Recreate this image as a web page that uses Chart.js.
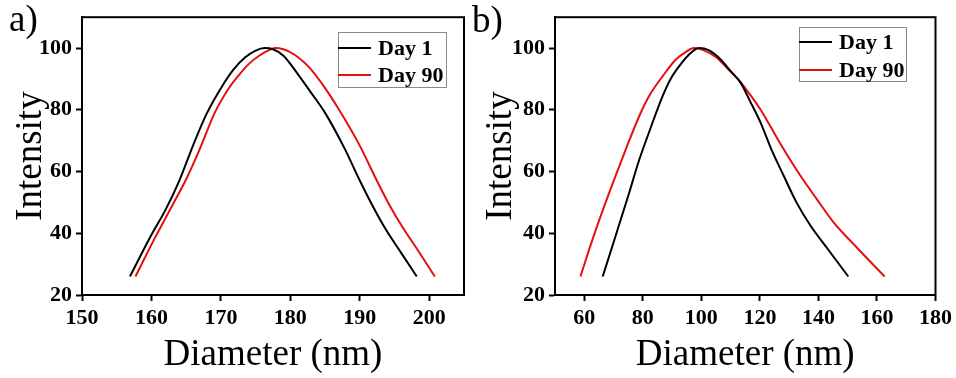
<!DOCTYPE html>
<html>
<head>
<meta charset="utf-8">
<script src="https://cdn.jsdelivr.net/npm/chart.js@4.4.0/dist/chart.umd.min.js"></script>
<style>
html, body { margin: 0; padding: 0; background: #fff; }
#wrap { position: relative; width: 956px; height: 378px; overflow: hidden; }
.panel { position: absolute; top: 0; height: 378px; }
#pa { left: 0; width: 470px; }
#pb { left: 470px; width: 486px; }
</style>
</head>
<body>
<div id="wrap">
    <div class="panel" id="pa"><canvas id="graficoA" width="470" height="378"></canvas></div>
    <div class="panel" id="pb"><canvas id="graficoB" width="486" height="378"></canvas></div>
</div>
<script>
// Panel a) - diametro (nm) e intensidad
const diamA_day1 = [156.9, 160.0, 162.0, 164.0, 166.0, 167.9, 170.0, 171.8, 173.5, 175.0, 176.3, 177.5, 179.0, 181.1, 183.0, 185.0, 187.8, 189.8, 191.7, 193.6, 196.0, 198.2];
const intA_day1  = [26, 39.5, 47.5, 57, 68.5, 78.5, 87, 93, 97, 99.2, 100, 99.6, 97.5, 91.5, 85.5, 79, 67.5, 58, 49.5, 41.8, 33.5, 26];
const diamA_day90 = [157.7, 160.5, 163.0, 165.0, 167.0, 169.1, 171.0, 172.5, 174.0, 175.5, 177.0, 177.8, 179.0, 180.5, 182.0, 183.0, 185.0, 186.9, 189.8, 192.6, 194.3, 196.0, 198.5, 200.8];
const intA_day90  = [26, 38.5, 49, 57.5, 67.5, 79, 86.5, 91, 94.8, 97.5, 99.4, 100, 99.6, 98, 95.3, 93, 87, 80.4, 69.2, 56.4, 49, 42.5, 34, 26];

// Panel b)
const diamB_day1 = [66.3, 70.0, 75.4, 78.5, 81.7, 86.8, 89.5, 92.4, 95.5, 99.2, 102.5, 106.6, 110.0, 113.4, 116.8, 120.2, 124.0, 128.1, 132.5, 137.2, 143.5, 150.2];
const intB_day1  = [26, 37, 53.3, 63, 71.6, 84.5, 90, 94.1, 97.6, 100, 99.3, 96.3, 92.5, 88.8, 82.5, 75.9, 67, 58.7, 50, 42.6, 34.5, 26];
const diamB_day90 = [58.7, 63.0, 68.6, 73.5, 78.8, 82.5, 86.8, 91.3, 94.5, 97.5, 100.5, 105.4, 108.8, 112.2, 116.2, 120.2, 127.0, 133.8, 139.5, 145.1, 153.5, 162.6];
const intB_day90  = [26, 38.5, 53.3, 65.5, 78, 85, 90.9, 96.3, 98.6, 100, 99.4, 96.8, 93.5, 90.3, 85.5, 80.1, 69, 58.7, 51, 43.6, 35, 26];

const ticksXA = [150, 160, 170, 180, 190, 200];
const ticksXB = [60, 80, 100, 120, 140, 160, 180];
const ticksY = [20, 40, 60, 80, 100];

const etiquetas = ['Day 1', 'Day 90'];
const colores = ['#000000', '#e60f0f'];

const fuenteSerif = "'Liberation Serif', 'Times New Roman', serif";

function puntos(xs, ys) {
    return xs.map((x, i) => ({ x: x, y: ys[i] }));
}

// Marco, leyenda y letra del panel
const pluginMarco = {
    id: 'marco',
    afterDraw(chart, args, opts) {
        const ctx = chart.ctx;
        const a = chart.chartArea;
        ctx.save();
        ctx.strokeStyle = '#000';
        ctx.lineWidth = 2;
        ctx.strokeRect(a.left, a.top, a.right - a.left, a.bottom - a.top);

        // letra del panel
        ctx.fillStyle = '#000';
        ctx.font = '37px ' + fuenteSerif;
        ctx.textBaseline = 'alphabetic';
        ctx.fillText(opts.letra, opts.letraX, opts.letraY);

        // leyenda
        const L = opts.leyenda;
        ctx.strokeStyle = '#8a8a8a';
        ctx.lineWidth = 1;
        ctx.strokeRect(L.x + 0.5, L.y + 0.5, L.w, L.h);
        ctx.font = 'bold 22px ' + fuenteSerif;
        ctx.textBaseline = 'middle';
        chart.data.datasets.forEach((ds, i) => {
            const yy = L.y + L.fila0 + i * L.paso;
            ctx.strokeStyle = ds.borderColor;
            ctx.lineWidth = 2;
            ctx.beginPath();
            ctx.moveTo(L.x, yy);
            ctx.lineTo(L.x + L.linea, yy);
            ctx.stroke();
            ctx.fillStyle = '#000';
            ctx.fillText(ds.label, L.x + L.linea + 7, yy + 1);
        });
        ctx.restore();
    }
};

function crearPanel(id, series, cfg) {
    const ctx = document.getElementById(id);
    return new Chart(ctx, {
        type: 'line',
        data: {
            datasets: series.map((s, i) => ({
                label: etiquetas[i],
                data: s,
                borderColor: colores[i],
                borderWidth: 2,
                pointRadius: 0,
                cubicInterpolationMode: 'monotone',
                fill: false
            }))
        },
        options: {
            responsive: false,
            animation: false,
            layout: { padding: { top: cfg.arriba, right: cfg.derecha, left: 0, bottom: 0 } },
            plugins: {
                legend: { display: false },
                tooltip: { enabled: false },
                marco: {
                    letra: cfg.letra, letraX: cfg.letraX, letraY: cfg.letraY,
                    leyenda: cfg.leyenda
                }
            },
            scales: {
                x: {
                    type: 'linear',
                    min: cfg.xMin,
                    max: cfg.xMax,
                    afterBuildTicks: function(scale) {
                        scale.ticks = cfg.ticksX.map(v => ({ value: v }));
                    },
                    afterFit: function(scale) {
                        scale.height = 378 - cfg.abajo;
                    },
                    grid: { drawOnChartArea: false, drawTicks: true, tickLength: 6, tickWidth: 2, tickColor: '#000' },
                    border: { display: true, color: '#000', width: 2 },
                    ticks: {
                        color: '#000',
                        padding: 4,
                        maxRotation: 0,
                        autoSkip: false,
                        font: { family: fuenteSerif, size: 22, weight: 'bold' }
                    },
                    title: {
                        display: true,
                        text: 'Diameter (nm)',
                        color: '#000',
                        font: { family: fuenteSerif, size: 37 },
                        padding: { top: 0, bottom: 1 }
                    }
                },
                y: {
                    type: 'linear',
                    min: 20,
                    max: 110,
                    afterBuildTicks: function(scale) {
                        scale.ticks = ticksY.map(v => ({ value: v }));
                    },
                    afterFit: function(scale) {
                        scale.width = cfg.izquierda;
                    },
                    grid: { drawOnChartArea: false, drawTicks: true, tickLength: 6, tickWidth: 2, tickColor: '#000' },
                    border: { display: true, color: '#000', width: 2 },
                    ticks: {
                        color: '#000',
                        padding: 4,
                        font: { family: fuenteSerif, size: 22, weight: 'bold' }
                    },
                    title: {
                        display: true,
                        text: 'Intensity',
                        color: '#000',
                        font: { family: fuenteSerif, size: 37 },
                        padding: { top: 9, bottom: 0 }
                    }
                }
            }
        },
        plugins: [pluginMarco]
    });
}

crearPanel('graficoA', [puntos(diamA_day1, intA_day1), puntos(diamA_day90, intA_day90)], {
    xMin: 150, xMax: 205, ticksX: ticksXA,
    izquierda: 82, derecha: 6, arriba: 14, abajo: 295,
    letra: 'a)', letraX: 9, letraY: 31,
    leyenda: { x: 338, y: 32, w: 108, h: 55, fila0: 16, paso: 27, linea: 33 }
});

crearPanel('graficoB', [puntos(diamB_day1, intB_day1), puntos(diamB_day90, intB_day90)], {
    xMin: 50, xMax: 180, ticksX: ticksXB,
    izquierda: 85, derecha: 20, arriba: 15, abajo: 295,
    letra: 'b)', letraX: 2, letraY: 32,
    leyenda: { x: 329, y: 27, w: 107, h: 54, fila0: 15, paso: 28, linea: 33 }
});
</script>
</body>
</html>
